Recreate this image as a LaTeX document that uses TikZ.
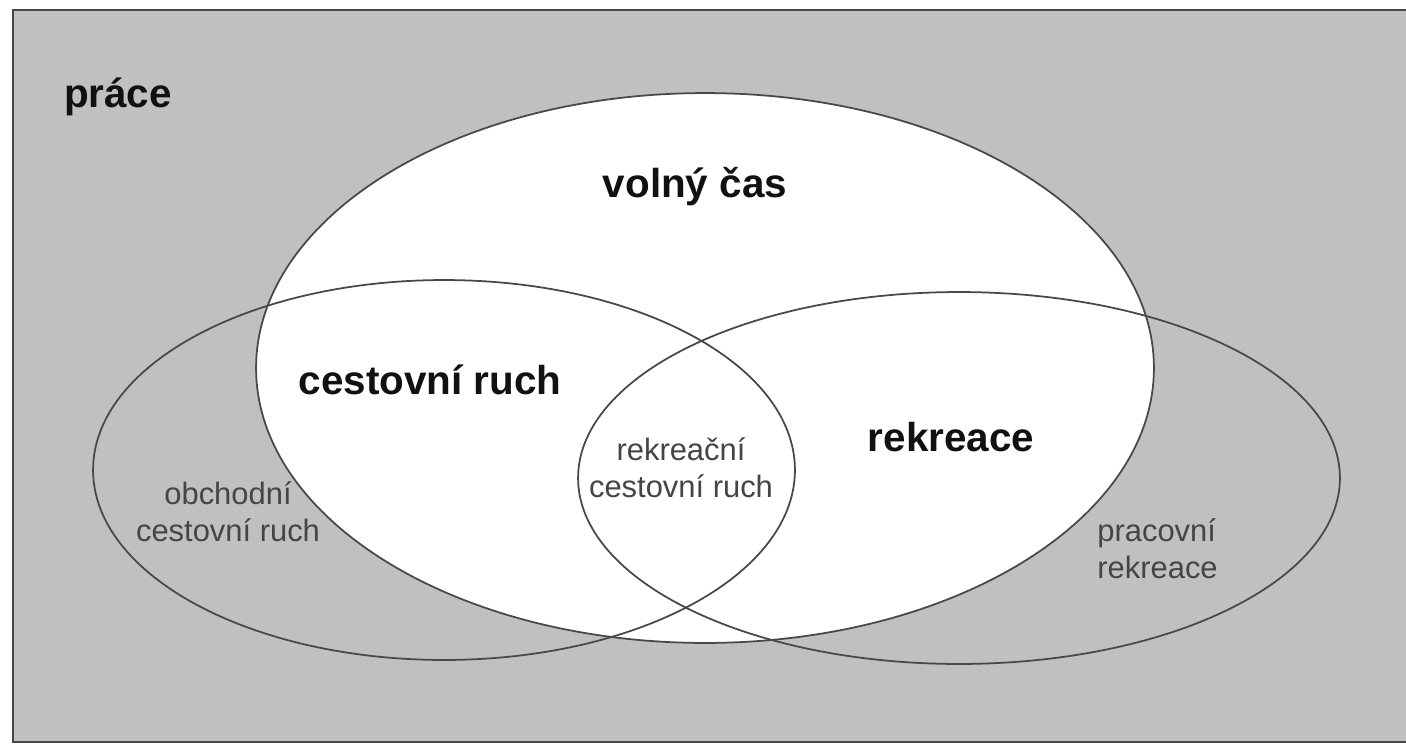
\documentclass[tikz,border=0pt]{standalone}
\usepackage{fontspec}
\setmainfont{Liberation Sans}
\definecolor{bggray}{HTML}{C0C0C0}
\definecolor{linegray}{HTML}{484848}
\definecolor{textdark}{HTML}{111111}
\definecolor{textgray}{HTML}{454545}
\begin{document}
\begin{tikzpicture}[x=0.02cm,y=-0.02cm,
  frame/.style={draw=linegray,line width=1.1pt,fill=bggray},
  setline/.style={draw=linegray,line width=1pt},
  biglabel/.style={text=textdark,font=\fontsize{23}{27}\selectfont\bfseries,inner sep=0pt},
  smalllabel/.style={text=textgray,font=\fontsize{17.6}{21}\selectfont,inner sep=0pt}]
\useasboundingbox (0,0) rectangle (1406,744);
% background area (práce)
\path[frame] (13,10) rectangle (1460,742);
% volný čas (white)
\path[setline,fill=white] (705,368) ellipse [x radius=8.98cm, y radius=5.5cm];
% cestovní ruch
\path[setline] (444,470) ellipse [x radius=7.02cm, y radius=3.8cm];
% rekreace
\path[setline] (959,478) ellipse [x radius=7.62cm, y radius=3.72cm];
% labels
\node[biglabel] (prace) at (118,97) {práce};
\node[biglabel] (volny) at (695,187) {volný čas};
\node[biglabel] (cr) at (430,380) {cestovní ruch};
\node[biglabel] (rek) at (951,437) {rekreace};
\node[smalllabel,align=center] (rcr) at (681,468) {rekreační\\cestovní ruch};
\node[smalllabel,align=center] (ocr) at (228,512) {obchodní\\cestovní ruch};
\node[smalllabel,align=left,anchor=west] (prek) at (1097,549) {pracovní\\rekreace};
\end{tikzpicture}
\end{document}
